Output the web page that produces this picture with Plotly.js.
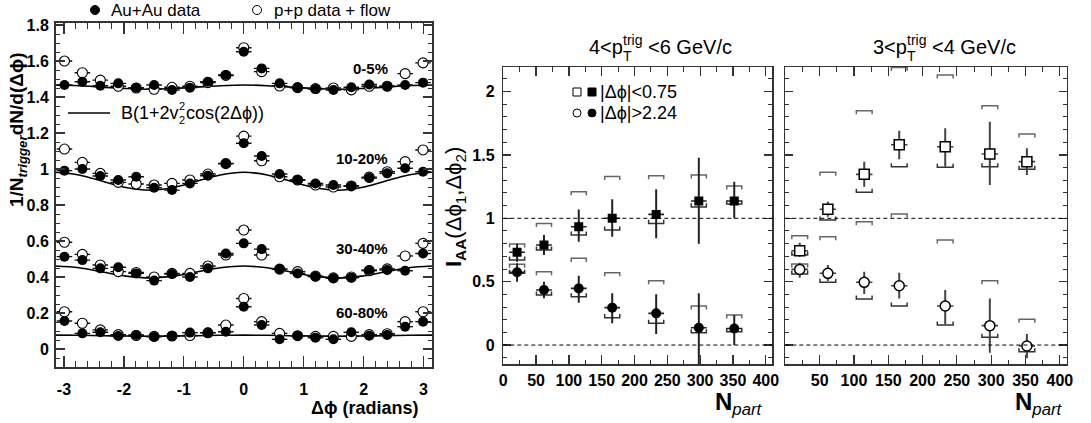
<!DOCTYPE html>
<html><head><meta charset="utf-8">
<script src="https://cdn.plot.ly/plotly-3.0.1.min.js"></script>
<style>html,body{margin:0;padding:0;background:#fff}</style>
</head><body><div id="chart" style="width:1091px;height:423px"></div>
<script>
// ---------------- Left panel data ----------------
const dphi = [-2.992,-2.693,-2.394,-2.094,-1.795,-1.496,-1.197,-0.898,-0.598,-0.299,0,0.299,0.598,0.898,1.197,1.496,1.795,2.094,2.394,2.693,2.992];
const auau_0_5   = [1.467,1.485,1.463,1.476,1.452,1.467,1.439,1.452,1.485,1.522,1.652,1.559,1.476,1.452,1.444,1.439,1.454,1.470,1.460,1.467,1.480];
const pp_0_5     = [1.600,1.535,1.494,1.460,1.450,1.443,1.454,1.460,1.480,1.520,1.674,1.541,1.461,1.452,1.447,1.450,1.440,1.460,1.460,1.530,1.590];
const auau_10_20 = [0.991,1.000,0.961,0.939,0.957,0.896,0.883,0.920,0.963,1.031,1.143,1.072,0.972,0.939,0.920,0.911,0.906,0.950,0.976,1.004,0.985];
const pp_10_20   = [1.111,1.037,0.976,0.926,0.917,0.911,0.920,0.939,0.972,1.030,1.183,1.046,0.957,0.939,0.911,0.900,0.906,0.955,0.985,1.041,1.106];
const auau_30_40 = [0.513,0.494,0.448,0.454,0.420,0.380,0.417,0.400,0.448,0.531,0.587,0.555,0.444,0.420,0.402,0.393,0.396,0.439,0.439,0.435,0.531];
const pp_30_40   = [0.593,0.526,0.467,0.430,0.425,0.400,0.420,0.420,0.461,0.522,0.661,0.522,0.444,0.430,0.405,0.395,0.400,0.435,0.445,0.517,0.587];
const auau_60_80 = [0.156,0.087,0.093,0.072,0.078,0.068,0.072,0.091,0.091,0.096,0.235,0.133,0.054,0.074,0.063,0.054,0.093,0.074,0.078,0.124,0.152];
const pp_60_80   = [0.207,0.143,0.106,0.080,0.075,0.070,0.072,0.075,0.090,0.133,0.281,0.152,0.087,0.074,0.070,0.070,0.070,0.080,0.085,0.152,0.207];
// flow background curves B(1+2v2^2 cos(2dphi))
const curveX    = [-3.1416,-2.7489,-2.3562,-1.9635,-1.5708,-1.1781,-0.7854,-0.3927,0,0.3927,0.7854,1.1781,1.5708,1.9635,2.3562,2.7489,3.1416];
const curve_0_5   = [1.467,1.463,1.455,1.447,1.443,1.447,1.455,1.463,1.467,1.463,1.455,1.447,1.443,1.447,1.455,1.463,1.467];
const curve_10_20 = [0.982,0.967,0.932,0.897,0.882,0.897,0.932,0.967,0.982,0.967,0.932,0.897,0.882,0.897,0.932,0.967,0.982];
const curve_30_40 = [0.461,0.451,0.428,0.405,0.395,0.405,0.428,0.451,0.461,0.451,0.428,0.405,0.395,0.405,0.428,0.451,0.461];
const curve_60_80 = [0.077,0.076,0.074,0.072,0.071,0.072,0.074,0.076,0.077,0.076,0.074,0.072,0.071,0.072,0.074,0.076,0.077];
const centLabels = ['0-5%','10-20%','30-40%','60-80%'];
const dphiTicks = [-3,-2,-1,0,1,2,3];
const dphiTickText = ['-3','-2','-1','0','1','2','3'];

// ---------------- Middle panel: 4<pT<6 ----------------
const npart = [21,62,115,166,233,298,352];
const mid_near     = [0.732,0.789,0.934,1.000,1.031,1.137,1.137];
const mid_near_eHi = [0.800,0.868,1.070,1.150,1.229,1.478,1.289];
const mid_near_eLo = [0.657,0.710,0.815,0.855,0.842,0.800,1.000];
const mid_near_sHi = [0.797,0.960,1.210,1.330,1.336,1.342,1.255];
const mid_near_sLo = [0.671,0.750,0.868,0.908,0.960,1.090,1.113];
const mid_away     = [0.574,0.434,0.447,0.295,0.250,0.137,0.131];
const mid_away_eHi = [0.645,0.500,0.547,0.408,0.400,0.408,0.237];
const mid_away_eLo = [0.500,0.369,0.334,0.171,0.087,-0.152,0.000];
const mid_away_sHi = [0.637,0.579,0.684,0.571,0.508,0.308,0.237];
const mid_away_sLo = [0.566,0.395,0.381,0.216,0.171,0.097,0.105];

// ---------------- Right panel: 3<pT<4 ----------------
const rgt_near     = [0.744,1.071,1.347,1.581,1.565,1.507,1.447];
const rgt_near_eHi = [0.807,1.131,1.447,1.691,1.710,1.762,1.552];
const rgt_near_eLo = [0.697,1.013,1.250,1.466,1.407,1.263,1.342];
const rgt_near_sHi = [0.863,1.363,1.849,2.190,2.131,1.889,1.665];
const rgt_near_sLo = [0.710,0.987,1.205,1.407,1.402,1.407,1.387];
const rgt_away     = [0.597,0.566,0.495,0.468,0.308,0.153,-0.008];
const rgt_away_eHi = [0.650,0.631,0.579,0.571,0.434,0.368,0.087];
const rgt_away_eLo = [0.531,0.505,0.403,0.368,0.163,-0.060,-0.105];
const rgt_away_sHi = [0.640,0.855,0.973,1.034,0.829,0.508,0.203];
const rgt_away_sLo = [0.560,0.495,0.363,0.308,0.158,0.061,-0.053];

const npartTicksMid = [0,50,100,150,200,250,300,350,400];
const npartTickTextMid = ['0','50','100','150','200','250','300','350','400'];
const npartTicksRgt = [50,100,150,200,250,300,350,400];
const npartTickTextRgt = ['50','100','150','200','250','300','350','400'];

// ---------------- helpers ----------------
const W = 1091, H = 423;
const px = v => v / W, py = v => 1 - v / H;
const FONT = 'Liberation Sans, Arial, Helvetica, sans-serif';

const traces = [];
function leftSeries(y, open) {
  return {
    x: dphi, y: y, xaxis: 'x', yaxis: 'y', type: 'scatter', mode: 'markers', showlegend: false,
    marker: open ? {symbol: 'circle', size: 10, color: '#fff', line: {color: '#000', width: 1.1}}
                 : {symbol: 'circle', size: 10, color: '#000', line: {color: '#000', width: 0}},
    error_x: {type: 'constant', value: 0.13, width: 0, thickness: 1.4, color: '#111'}
  };
}
[curve_0_5, curve_10_20, curve_30_40, curve_60_80].forEach(c => traces.push({
  x: curveX, y: c, xaxis: 'x', yaxis: 'y', type: 'scatter', mode: 'lines', showlegend: false,
  line: {color: '#000', width: 1.6, shape: 'spline'}
}));
[[pp_0_5, auau_0_5], [pp_10_20, auau_10_20], [pp_30_40, auau_30_40], [pp_60_80, auau_60_80]].forEach(p => {
  traces.push(leftSeries(p[0], true));
  traces.push(leftSeries(p[1], false));
});

function bracketTrace(xs, ys, up, xa, ya, color) {
  const w = 11.5, h = 0.028, X = [], Y = [];
  xs.forEach((x, i) => {
    const y = ys[i], t = up ? y - h : y + h;
    X.push(x - w, x - w, x + w, x + w, null);
    Y.push(t, y, y, t, null);
  });
  return {x: X, y: Y, xaxis: xa, yaxis: ya, type: 'scatter', mode: 'lines', showlegend: false,
          line: {color: color, width: 1.5}};
}
function pointTrace(y, eHi, eLo, xa, ya, symbol, open, ecolor) {
  return {
    x: npart, y: y, xaxis: xa, yaxis: ya, type: 'scatter', mode: 'markers', showlegend: false,
    marker: open ? {symbol: symbol, size: 10, color: '#fff', line: {color: '#000', width: 1.5}}
                 : {symbol: symbol, size: symbol === 'square' ? 9 : 10, color: '#000', line: {width: 0}},
    error_y: {type: 'data', symmetric: false, array: eHi.map((v, i) => v - y[i]),
              arrayminus: y.map((v, i) => v - eLo[i]), width: 0, thickness: 2, color: ecolor},
    error_x: {type: 'constant', value: 12, width: 0, thickness: 1.6, color: ecolor}
  };
}
// middle
traces.push(bracketTrace(npart, mid_near_sHi, true, 'x2', 'y2', '#666'));
traces.push(bracketTrace(npart, mid_near_sLo, false, 'x2', 'y2', '#333'));
traces.push(bracketTrace(npart, mid_away_sHi, true, 'x2', 'y2', '#666'));
traces.push(bracketTrace(npart, mid_away_sLo, false, 'x2', 'y2', '#333'));
traces.push(pointTrace(mid_near, mid_near_eHi, mid_near_eLo, 'x2', 'y2', 'square', false, '#222'));
traces.push(pointTrace(mid_away, mid_away_eHi, mid_away_eLo, 'x2', 'y2', 'circle', false, '#222'));
// right
traces.push(bracketTrace(npart, rgt_near_sHi, true, 'x3', 'y3', '#666'));
traces.push(bracketTrace(npart, rgt_near_sLo, false, 'x3', 'y3', '#333'));
traces.push(bracketTrace(npart, rgt_away_sHi, true, 'x3', 'y3', '#666'));
traces.push(bracketTrace(npart, rgt_away_sLo, false, 'x3', 'y3', '#333'));
traces.push(pointTrace(rgt_near, rgt_near_eHi, rgt_near_eLo, 'x3', 'y3', 'square', true, '#444'));
traces.push(pointTrace(rgt_away, rgt_away_eHi, rgt_away_eLo, 'x3', 'y3', 'circle', true, '#444'));

const tickFont = {family: FONT, size: 16, color: '#000', weight: 'bold'};
const base = {showline: true, mirror: 'allticks', linecolor: '#333', linewidth: 1.5, ticks: 'inside',
              tickcolor: '#333', tickwidth: 1.2, zeroline: false, showgrid: false, tickfont: tickFont, fixedrange: true};

const midYRange = [-0.152, 2.194];
const layout = {
  width: W, height: H, margin: {l: 0, r: 0, t: 0, b: 0}, paper_bgcolor: '#fff', plot_bgcolor: '#fff',
  showlegend: false, font: {family: FONT, color: '#000'},
  xaxis: Object.assign({}, base, {anchor: 'y', domain: [px(55.5), px(432)], range: [-3.1416, 3.1416],
    tickmode: 'array', tickvals: dphiTicks, ticktext: dphiTickText, ticklen: 11, ticklabelstandoff: 7,
    minor: {tickmode: 'linear', tick0: 0, dtick: 0.2, ticklen: 6, ticks: 'inside', tickcolor: '#333', tickwidth: 1}}),
  yaxis: Object.assign({}, base, {anchor: 'x', domain: [py(367), py(22.7)], range: [-0.1, 1.813],
    tickmode: 'linear', tick0: 0, dtick: 0.2, ticklen: 9, ticklabelstandoff: 2,
    minor: {tickmode: 'linear', tick0: 0, dtick: 0.05, ticklen: 4.5, ticks: 'inside', tickcolor: '#333', tickwidth: 1}}),
  xaxis2: Object.assign({}, base, {anchor: 'y2', domain: [px(503.3), px(772.3)], range: [0, 410],
    tickmode: 'array', tickvals: npartTicksMid, ticktext: npartTickTextMid, ticklen: 9, ticklabelstandoff: 1,
    minor: {tickmode: 'linear', tick0: 0, dtick: 25, ticklen: 4.5, ticks: 'inside', tickcolor: '#333', tickwidth: 1}}),
  yaxis2: Object.assign({}, base, {anchor: 'x2', domain: [py(364.3), py(67)], range: midYRange,
    tickmode: 'linear', tick0: 0, dtick: 0.5, ticklen: 8, ticklabelstandoff: 4,
    minor: {tickmode: 'linear', tick0: 0, dtick: 0.1, ticklen: 4, ticks: 'inside', tickcolor: '#333', tickwidth: 1}}),
  xaxis3: Object.assign({}, base, {anchor: 'y3', domain: [px(785.3), px(1066.7)], range: [0, 410],
    tickmode: 'array', tickvals: npartTicksRgt, ticktext: npartTickTextRgt, ticklen: 9, ticklabelstandoff: 1,
    minor: {tickmode: 'linear', tick0: 0, dtick: 25, ticklen: 4.5, ticks: 'inside', tickcolor: '#333', tickwidth: 1}}),
  yaxis3: Object.assign({}, base, {anchor: 'x3', domain: [py(364.3), py(67)], range: midYRange,
    tickmode: 'linear', tick0: 0, dtick: 0.5, ticklen: 8, showticklabels: false,
    minor: {tickmode: 'linear', tick0: 0, dtick: 0.1, ticklen: 4, ticks: 'inside', tickcolor: '#333', tickwidth: 1}}),
  shapes: [],
  annotations: []
};

// reference dashed lines at 1 and 0
[['x2', 'y2'], ['x3', 'y3']].forEach(a => [1, 0].forEach(v => layout.shapes.push({
  type: 'line', xref: a[0] + ' domain', yref: a[1], x0: 0, x1: 1, y0: v, y1: v,
  line: {color: '#000', width: 1, dash: '4px,3px'}
})));

function ann(text, x, y, opt) {
  layout.annotations.push(Object.assign({text: text, xref: 'paper', yref: 'paper', x: px(x), y: py(y),
    showarrow: false, xanchor: 'center', yanchor: 'middle', borderpad: 0,
    font: {family: FONT, size: 17, color: '#000'}}, opt || {}));
}
function f(size, bold) { return {family: FONT, size: size, color: '#000', weight: bold ? 'bold' : 'normal'}; }
function circ(cx, cy, r, filled) {
  layout.shapes.push({type: 'circle', xref: 'paper', yref: 'paper', x0: px(cx - r), x1: px(cx + r), y0: py(cy + r), y1: py(cy - r),
    fillcolor: filled ? '#000' : '#fff', line: {color: '#000', width: 1}});
}
function sq(cx, cy, r, filled) {
  layout.shapes.push({type: 'rect', xref: 'paper', yref: 'paper', x0: px(cx - r), x1: px(cx + r), y0: py(cy + r), y1: py(cy - r),
    fillcolor: filled ? '#000' : '#fff', line: {color: '#000', width: 1}});
}

// top-left legend
circ(95, 10, 4.5, true);
ann('Au+Au data', 110, 10, {xanchor: 'left'});
circ(257, 10, 4.5, false);
ann('p+p data + flow', 273, 10, {xanchor: 'left'});
// curve legend: B(1+2v_2^2cos(2Δϕ)) with stacked indices
layout.shapes.push({type: 'line', xref: 'paper', yref: 'paper', x0: px(68), x1: px(110), y0: py(113), y1: py(113), line: {color: '#000', width: 1.6}});
ann('B(1+2v', 120, 113, {xanchor: 'left', font: f(18)});
ann('2', 177.8, 106, {xanchor: 'left', font: f(11)});
ann('2', 177.8, 120, {xanchor: 'left', font: f(11)});
ann('cos(2Δϕ))', 185, 113, {xanchor: 'left', font: f(18)});

// centrality labels
[[centLabels[0], 68], [centLabels[1], 158], [centLabels[2], 249], [centLabels[3], 312]].forEach(c =>
  ann(c[0], 389, c[1], {xanchor: 'right', font: f(15, true)}));

// axis titles left
ann('1/N<sub><i>trigger</i></sub>dN/d(Δϕ)', 18, 130, {textangle: -90, font: f(19, true)});
ann('Δϕ (radians)', 364, 408, {font: f(18, true)});

// middle / right titles with stacked p_T^trig
function ptTitle(x0, lo, hi) {
  ann(lo + '<p', x0, 47, {xanchor: 'left', font: f(20)});
  ann('trig', x0 + 34, 40, {xanchor: 'left', font: f(14)});
  ann('T', x0 + 34, 56, {xanchor: 'left', font: f(14)});
  ann('<' + hi + ' GeV/c', x0 + 34 + 19.6 + 5.6, 47, {xanchor: 'left', font: f(20)});
}
ptTitle(588, '4', '6');
ptTitle(872, '3', '4');

// middle legend
sq(577, 92, 4, false); sq(592, 92, 4, true);
ann('|Δϕ|<0.75', 599, 92, {xanchor: 'left', font: f(18)});
circ(577, 113, 4, false); circ(592, 113, 4, true);
ann('|Δϕ|>2.24', 599, 113, {xanchor: 'left', font: f(18)});

// I_AA title
ann('<b>I<sub>AA</sub></b>(Δϕ<sub>1</sub>,Δϕ<sub>2</sub>)', 455, 207, {textangle: -90, font: f(22)});
// Npart titles
ann('<b>N</b><sub><i>part</i></sub>', 739, 403, {font: f(24)});
ann('<b>N</b><sub><i>part</i></sub>', 1039, 403, {font: f(24)});

Plotly.newPlot('chart', traces, layout, {displayModeBar: false, staticPlot: true});
</script>
</body></html>
